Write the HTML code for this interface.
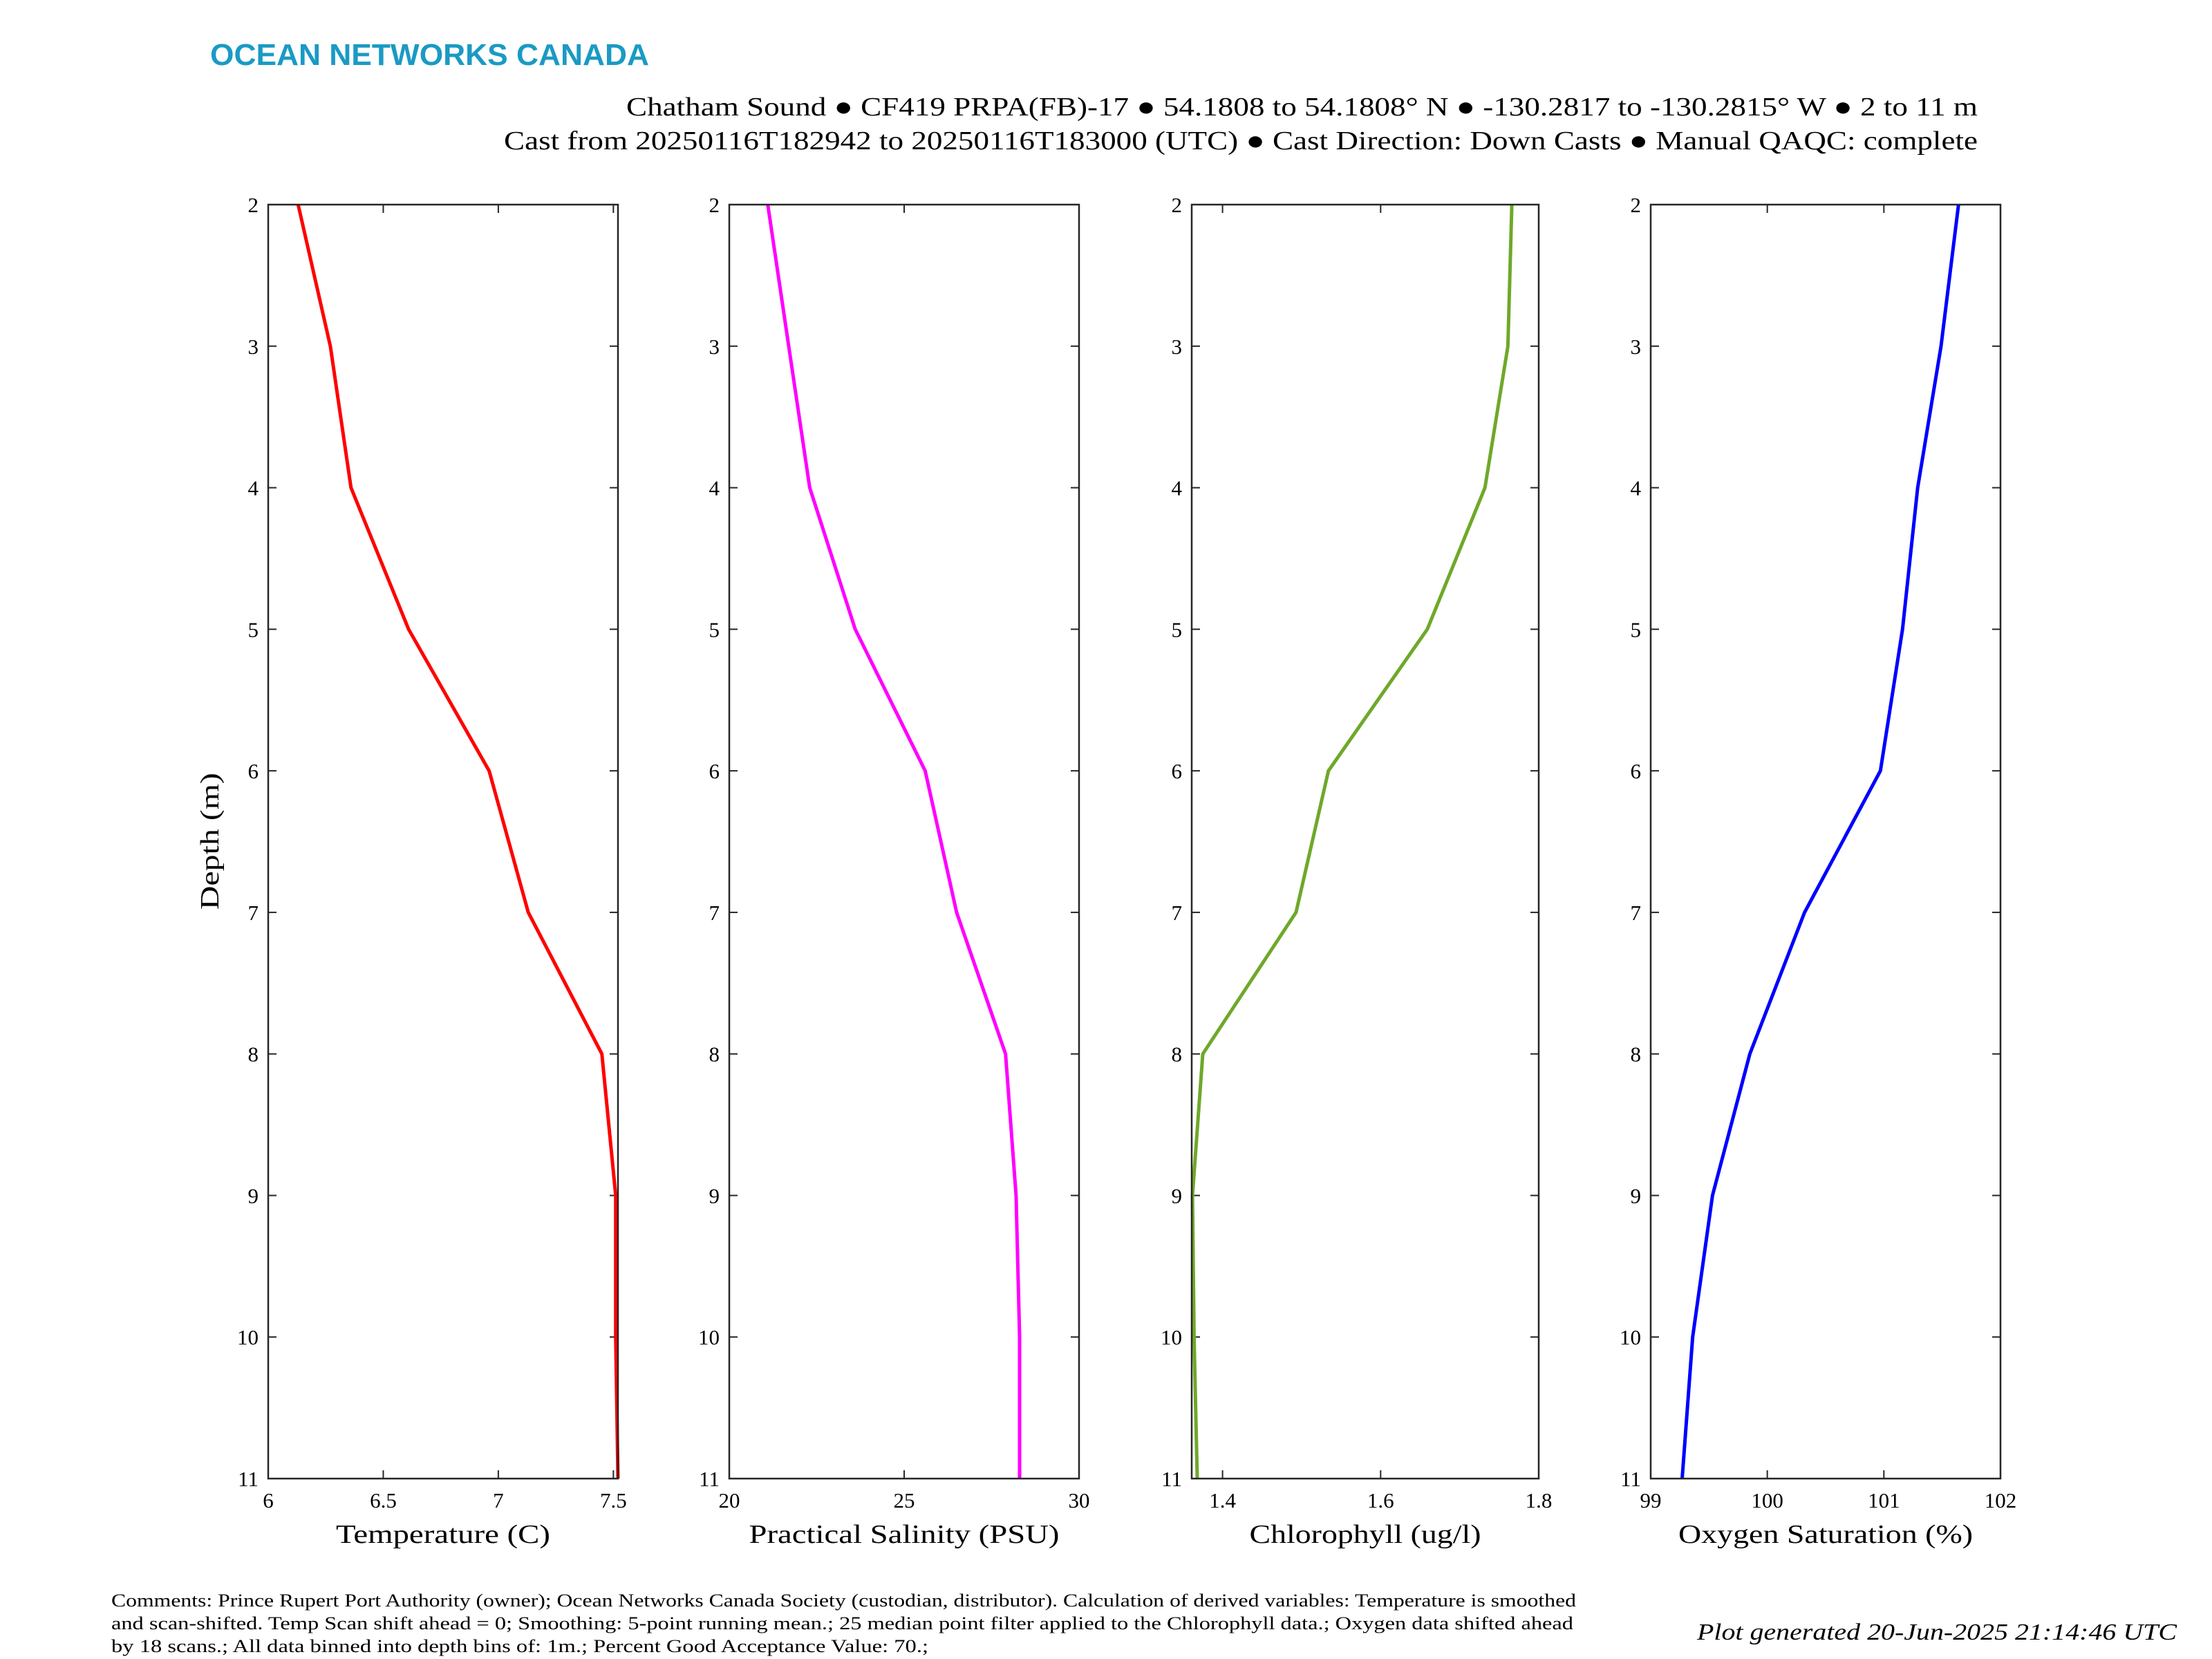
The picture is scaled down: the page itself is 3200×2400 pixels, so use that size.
<!DOCTYPE html>
<html><head><meta charset="utf-8"><style>
html,body{margin:0;padding:0;background:#fff;}
svg{display:block;}
text{font-family:"Liberation Serif",serif;fill:#000;}
</style></head><body>
<svg id="fig" width="3200" height="2400" viewBox="0 0 3200 2400" xmlns="http://www.w3.org/2000/svg">
<text x="304" y="94" textLength="635" lengthAdjust="spacingAndGlyphs" style="font-family:'Liberation Sans',sans-serif;font-weight:bold;font-size:44px;fill:#1a9ac4">OCEAN NETWORKS CANADA</text>
<text x="906" y="167" textLength="1955" lengthAdjust="spacingAndGlyphs" font-size="38">Chatham Sound ● CF419 PRPA(FB)-17 ● 54.1808 to 54.1808° N ● -130.2817 to -130.2815° W ● 2 to 11 m</text>
<text x="729" y="216" textLength="2132" lengthAdjust="spacingAndGlyphs" font-size="38">Cast from 20250116T182942 to 20250116T183000 (UTC) ● Cast Direction: Down Casts ● Manual QAQC: complete</text>
<text transform="translate(316,1217) rotate(-90)" text-anchor="middle" textLength="198" lengthAdjust="spacingAndGlyphs" font-size="38">Depth (m)</text>
<g id="panels"></g>
<text x="161" y="2324" textLength="2119" lengthAdjust="spacingAndGlyphs" font-size="26">Comments: Prince Rupert Port Authority (owner); Ocean Networks Canada Society (custodian, distributor). Calculation of derived variables: Temperature is smoothed</text>
<text x="161" y="2357" textLength="2115" lengthAdjust="spacingAndGlyphs" font-size="26">and scan-shifted. Temp Scan shift ahead = 0; Smoothing: 5-point running mean.; 25 median point filter applied to the Chlorophyll data.; Oxygen data shifted ahead</text>
<text x="161" y="2390" textLength="1182" lengthAdjust="spacingAndGlyphs" font-size="26">by 18 scans.; All data binned into depth bins of: 1m.; Percent Good Acceptance Value: 70.;</text>
<text x="2455" y="2372" textLength="694" lengthAdjust="spacingAndGlyphs" font-size="34" font-style="italic">Plot generated 20-Jun-2025 21:14:46 UTC</text>
</svg>
<script>
const depths = [2,3,4,5,6,7,8,9,10,11];
const depthTicks = [2,3,4,5,6,7,8,9,10,11];
const tempValues = [6.13,6.27,6.36,6.61,6.96,7.13,7.45,7.51,7.51,7.52];
const salValues = [21.1,21.7,22.3,23.6,25.6,26.5,27.9,28.2,28.3,28.3];
const chlValues = [1.766,1.761,1.732,1.659,1.534,1.493,1.375,1.362,1.364,1.368];
const oxyValues = [101.64,101.49,101.29,101.16,100.97,100.32,99.85,99.53,99.36,99.27];
const tempTicks = [6,6.5,7,7.5];
const salTicks = [20,25,30];
const chlTicks = [1.4,1.6,1.8];
const oxyTicks = [99,100,101,102];

const NS='http://www.w3.org/2000/svg';
const g=document.getElementById('panels');
const plotTop=296, plotBot=2139;
function yScale(d){return plotTop+(d-2)/(11-2)*(plotBot-plotTop);}
function mk(tag,attrs,parent){const e=document.createElementNS(NS,tag);for(const k in attrs)e.setAttribute(k,attrs[k]);(parent||g).appendChild(e);return e;}

const panels=[
 {key:'temperature',x0:388,x1:894,min:6,max:7.52,vals:tempValues,ticks:tempTicks,color:'#ff0000',label:'Temperature (C)',lw:310},
 {key:'salinity',x0:1055,x1:1561,min:20,max:30,vals:salValues,ticks:salTicks,color:'#ff00ff',label:'Practical Salinity (PSU)',lw:449},
 {key:'chlorophyll',x0:1724,x1:2226,min:1.361,max:1.8,vals:chlValues,ticks:chlTicks,color:'#6fa82a',label:'Chlorophyll (ug/l)',lw:335},
 {key:'oxygen',x0:2388,x1:2894,min:99,max:102,vals:oxyValues,ticks:oxyTicks,color:'#0000ff',label:'Oxygen Saturation (%)',lw:426}
];
panels.forEach(p=>{
 const xs=v=>p.x0+(v-p.min)/(p.max-p.min)*(p.x1-p.x0);
 const pg=mk('g',{});
 
 
 depthTicks.forEach(d=>{
  const y=yScale(d);
  const t1=mk('line',{x1:p.x0,x2:p.x0+12,y1:y,y2:y,stroke:'#262626','stroke-width':2},pg);
  
  
  const t2=mk('line',{x1:p.x1,x2:p.x1-12,y1:y,y2:y,stroke:'#262626','stroke-width':2},pg);
  
  
  const tl=mk('text',{x:p.x0-14,y:y+11,'text-anchor':'end','font-size':31,fill:'#262626'},pg);
  tl.textContent=d;
  
  
 });
 p.ticks.forEach(v=>{
  const x=xs(v);
  const t1=mk('line',{x1:x,x2:x,y1:plotBot,y2:plotBot-12,stroke:'#262626','stroke-width':2},pg);
  
  
  const t2=mk('line',{x1:x,x2:x,y1:plotTop,y2:plotTop+12,stroke:'#262626','stroke-width':2},pg);
  
  
  const tl=mk('text',{x:x,y:plotBot+42,'text-anchor':'middle','font-size':31,fill:'#262626'},pg);
  tl.textContent=v;
  
  
 });
 const pts=p.vals.map((v,i)=>xs(v).toFixed(1)+','+yScale(depths[i]).toFixed(1)).join(' ');
 const ln=mk('polyline',{points:pts,fill:'none',stroke:p.color,'stroke-width':5,'stroke-linejoin':'round'},pg);
 
 
 const box=mk('rect',{x:p.x0,y:plotTop,width:p.x1-p.x0,height:plotBot-plotTop,fill:'none',stroke:'#262626','stroke-width':2.5},pg);
 
 
 const lb=mk('text',{x:(p.x0+p.x1)/2,y:2232,'text-anchor':'middle','font-size':38,fill:p.color,textLength:p.lw,lengthAdjust:'spacingAndGlyphs'},pg);
 lb.textContent=p.label;
 
 
});
</script>
</body></html>
